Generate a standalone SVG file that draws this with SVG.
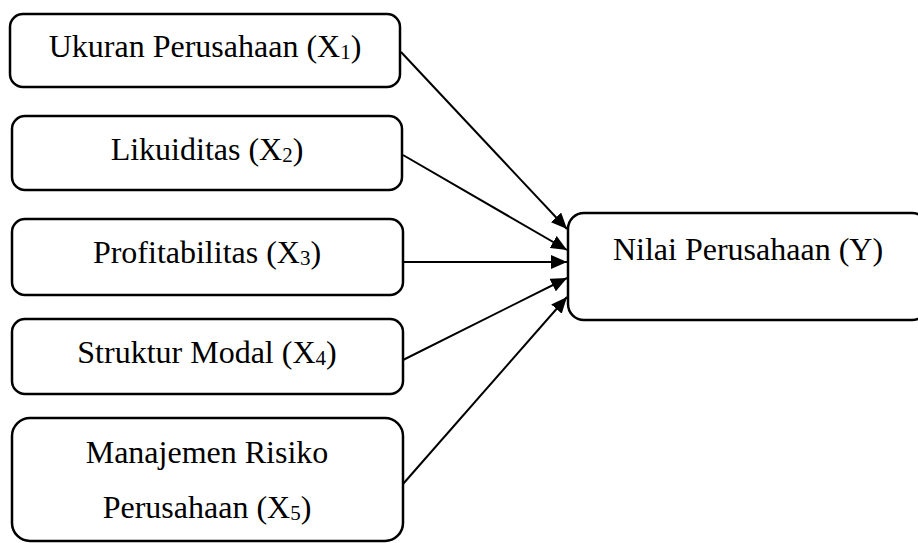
<svg xmlns="http://www.w3.org/2000/svg" width="918" height="543" viewBox="0 0 918 543">
  <defs>
    <marker id="arrow" markerUnits="userSpaceOnUse" markerWidth="16" markerHeight="14" refX="16" refY="7" orient="auto">
      <path d="M0,0 L16,7 L0,14 z" fill="#000"/>
    </marker>
    <style>
      .box { fill: #fff; stroke: #000; stroke-width: 2.5; }
      .lbl { font-family: "Liberation Serif", "Times New Roman", serif; font-size: 32px; fill: #000; text-anchor: middle; }
      .sub { font-size: 21px; }
      .conn { stroke: #000; stroke-width: 2; fill: none; marker-end: url(#arrow); }
    </style>
  </defs>
  <rect width="918" height="543" fill="#fff"/>

  <g id="connectors">
    <line class="conn" x1="401" y1="52" x2="567" y2="229"/>
    <line class="conn" x1="403" y1="155" x2="567" y2="250"/>
    <line class="conn" x1="403" y1="262" x2="567" y2="262"/>
    <line class="conn" x1="403" y1="360" x2="567" y2="278"/>
    <line class="conn" x1="403" y1="484" x2="567" y2="297"/>
  </g>

  <g id="node-x1">
    <rect class="box" x="10" y="14" width="390" height="73" rx="13"/>
    <text class="lbl" x="205" y="57">Ukuran Perusahaan (X<tspan class="sub" dy="2">1</tspan><tspan dy="-2">)</tspan></text>
  </g>
  <g id="node-x2">
    <rect class="box" x="12" y="116" width="390" height="74" rx="13"/>
    <text class="lbl" x="207" y="160">Likuiditas (X<tspan class="sub" dy="2">2</tspan><tspan dy="-2">)</tspan></text>
  </g>
  <g id="node-x3">
    <rect class="box" x="12" y="219" width="391" height="76" rx="13"/>
    <text class="lbl" x="207" y="263">Profitabilitas (X<tspan class="sub" dy="2">3</tspan><tspan dy="-2">)</tspan></text>
  </g>
  <g id="node-x4">
    <rect class="box" x="12" y="319" width="391" height="75" rx="13"/>
    <text class="lbl" x="207" y="363">Struktur Modal (X<tspan class="sub" dy="2">4</tspan><tspan dy="-2">)</tspan></text>
  </g>
  <g id="node-x5">
    <rect class="box" x="12" y="418" width="391" height="123" rx="18"/>
    <text class="lbl" x="207" y="463">Manajemen Risiko</text>
    <text class="lbl" x="207" y="518">Perusahaan (X<tspan class="sub" dy="2">5</tspan><tspan dy="-2">)</tspan></text>
  </g>
  <g id="node-y">
    <rect class="box" x="568" y="213" width="360" height="107" rx="16"/>
    <text class="lbl" x="748" y="260">Nilai Perusahaan (Y)</text>
  </g>
</svg>
